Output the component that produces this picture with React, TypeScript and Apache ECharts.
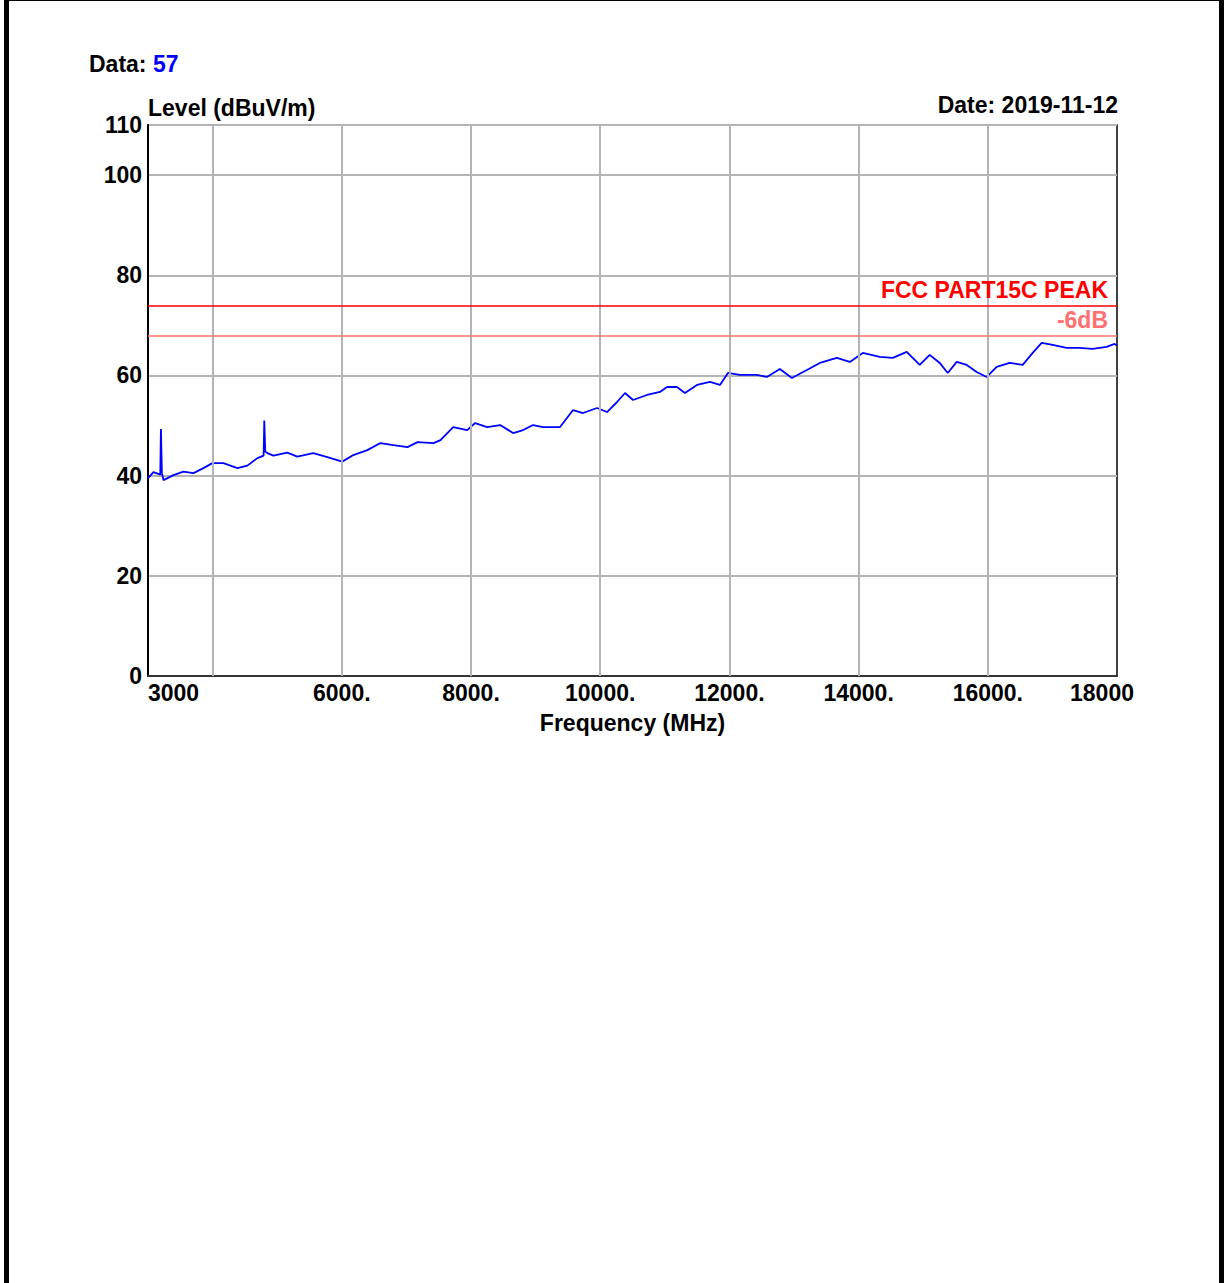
import React, { useEffect, useRef } from "react";
import * as echarts from "echarts";

const freqMHz = [3000, 3085, 3190, 3200, 3215, 3240, 3394, 3549, 3704, 3858, 3997, 4167, 4384, 4539, 4694, 4790, 4800, 4815, 4848, 4941, 5157, 5312, 5559, 5776, 6008, 6178, 6395, 6599, 6800, 7017, 7172, 7419, 7528, 7724, 7941, 8064, 8250, 8451, 8652, 8807, 8961, 9116, 9379, 9580, 9735, 9951, 10106, 10261, 10384, 10508, 10724, 10925, 11034, 11188, 11312, 11498, 11699, 11854, 11977, 12163, 12426, 12580, 12781, 12967, 13199, 13400, 13663, 13864, 14065, 14328, 14529, 14745, 14946, 15101, 15256, 15380, 15519, 15674, 15828, 15983, 16138, 16339, 16540, 16695, 16834, 17004, 17220, 17421, 17622, 17839, 17962, 18000];
const levelDb = [39.5, 40.7, 40.2, 49.3, 40.5, 39.1, 40.1, 40.8, 40.5, 41.5, 42.5, 42.5, 41.5, 42.0, 43.5, 44.0, 51.0, 44.8, 44.5, 44.0, 44.6, 43.8, 44.5, 43.7, 42.8, 44.1, 45.1, 46.5, 46.1, 45.7, 46.7, 46.5, 47.1, 49.7, 49.1, 50.5, 49.7, 50.1, 48.5, 49.1, 50.1, 49.7, 49.7, 53.1, 52.5, 53.5, 52.7, 54.7, 56.5, 55.1, 56.1, 56.7, 57.7, 57.7, 56.5, 58.1, 58.7, 58.1, 60.5, 60.1, 60.1, 59.7, 61.3, 59.5, 61.1, 62.5, 63.5, 62.7, 64.5, 63.7, 63.5, 64.7, 62.1, 64.1, 62.5, 60.5, 62.7, 62.1, 60.7, 59.7, 61.7, 62.5, 62.1, 64.5, 66.5, 66.1, 65.5, 65.5, 65.3, 65.7, 66.3, 66.0];

const xLabelValues = [3000, 6000, 8000, 10000, 12000, 14000, 16000, 18000];
const xGridValues = [4000, 6000, 8000, 10000, 12000, 14000, 16000];
const limitPeak = 74;
const limitMargin = 68;
const limitPeakName = "FCC PART15C PEAK";
const limitMarginName = "-6dB";
const dataNo = "57";
const dateText = "2019-11-12";

const FONT = "'Liberation Sans', Arial, sans-serif";
const FS = 23;

export default function App() {
  const ref = useRef<HTMLDivElement>(null);
  useEffect(() => {
    if (!ref.current) return;
    const chart = echarts.init(ref.current, null, { renderer: "svg" });
    const pts = freqMHz.map((f, i) => [f, levelDb[i]]);
    chart.setOption({
      animation: false,
      backgroundColor: "#ffffff",
      textStyle: { fontFamily: FONT },
      grid: {
        left: 148,
        right: 107,
        top: 125,
        bottom: 607,
        show: true,
        borderColor: "#000",
        borderWidth: 1.5,
        backgroundColor: "transparent",
      },
      xAxis: {
        type: "value",
        min: 3000,
        max: 18000,
        name: "Frequency (MHz)",
        nameLocation: "middle",
        nameGap: 35,
        nameTextStyle: { fontFamily: FONT, fontSize: FS, fontWeight: "bold", color: "#000" },
        axisLine: { show: true, lineStyle: { color: "#333", width: 2 } },
        axisTick: { show: false },
        splitLine: { show: false },
        axisLabel: {
          customValues: xLabelValues,
          formatter: (v: number) =>
            v === 3000 ? String(v) : v === 18000 ? "{m|" + v + "}" : v + ".",
          rich: {
            m: { fontFamily: FONT, fontSize: FS, fontWeight: "bold", color: "#000", padding: [0, 30, 0, 0] },
          },
          fontFamily: FONT,
          fontSize: FS,
          fontWeight: "bold",
          color: "#000",
          margin: 5,
          alignMinLabel: "left",
          alignMaxLabel: "center",
        },
      },
      yAxis: {
        type: "value",
        min: 0,
        max: 110,
        interval: 20,
        name: "Level (dBuV/m)",
        nameLocation: "end",
        nameGap: 6,
        nameTextStyle: { fontFamily: FONT, fontSize: FS, fontWeight: "bold", color: "#000", align: "left", verticalAlign: "bottom" },
        axisLine: { show: true, lineStyle: { color: "#000", width: 2 } },
        axisTick: { show: false },
        splitLine: { show: true, lineStyle: { color: "#b4b4b4", width: 2 } },
        axisLabel: { fontFamily: FONT, fontSize: FS, fontWeight: "bold", color: "#000", margin: 6 },
      },
      graphic: [
        { type: "rect", shape: { x: 4, y: 0, width: 1220, height: 1 }, style: { fill: "#000" } },
        { type: "rect", shape: { x: 4, y: 0, width: 5, height: 1283 }, style: { fill: "#000" } },
        { type: "rect", shape: { x: 1219, y: 0, width: 5, height: 1283 }, style: { fill: "#000" } },
        {
          type: "text",
          x: 89,
          y: 64,
          style: {
            text: "{a|Data: }{b|" + dataNo + "}",
            verticalAlign: "middle",
            rich: {
              a: { fontFamily: FONT, fontSize: FS, fontWeight: "bold", fill: "#000", color: "#000" },
              b: { fontFamily: FONT, fontSize: FS, fontWeight: "bold", fill: "#0000ff", color: "#0000ff" },
            },
          },
        },
        {
          type: "text",
          x: 1118,
          y: 105,
          style: {
            text: "Date: " + dateText,
            align: "right",
            verticalAlign: "middle",
            fontFamily: FONT,
            fontSize: FS,
            fontWeight: "bold",
            fill: "#000",
          },
        },
      ],
      series: [
        {
          type: "line",
          data: [],
          silent: true,
          z: 1,
          markLine: {
            silent: true,
            symbol: "none",
            animation: false,
            label: { show: false },
            lineStyle: { color: "#b4b4b4", width: 2, type: "solid" },
            data: xGridValues.map((v) => ({ xAxis: v })),
          },
        },
        {
          type: "line",
          data: [],
          silent: true,
          z: 3,
          markLine: {
            silent: true,
            symbol: "none",
            animation: false,
            data: [
              {
                yAxis: limitPeak,
                lineStyle: { color: "#ff0000", width: 1.5, type: "solid" },
                label: {
                  show: true,
                  position: "insideEndTop",
                  formatter: limitPeakName,
                  distance: [9, 4],
                  fontFamily: FONT,
                  fontSize: FS,
                  fontWeight: "bold",
                  color: "#ff0000",
                },
              },
              {
                yAxis: limitMargin,
                lineStyle: { color: "#ff7070", width: 1.5, type: "solid" },
                label: {
                  show: true,
                  position: "insideEndTop",
                  formatter: limitMarginName,
                  distance: [9, 4],
                  fontFamily: FONT,
                  fontSize: FS,
                  fontWeight: "bold",
                  color: "#ff7070",
                },
              },
            ],
          },
        },
        {
          type: "line",
          data: pts,
          showSymbol: false,
          symbol: "none",
          z: 4,
          lineStyle: { color: "#0000ff", width: 1.8 },
        },
      ],
    });
    return () => chart.dispose();
  }, []);
  return (
    <div
      ref={ref}
      style={{ position: "fixed", left: 0, top: 0, width: 1224, height: 1283, background: "#fff" }}
    />
  );
}
